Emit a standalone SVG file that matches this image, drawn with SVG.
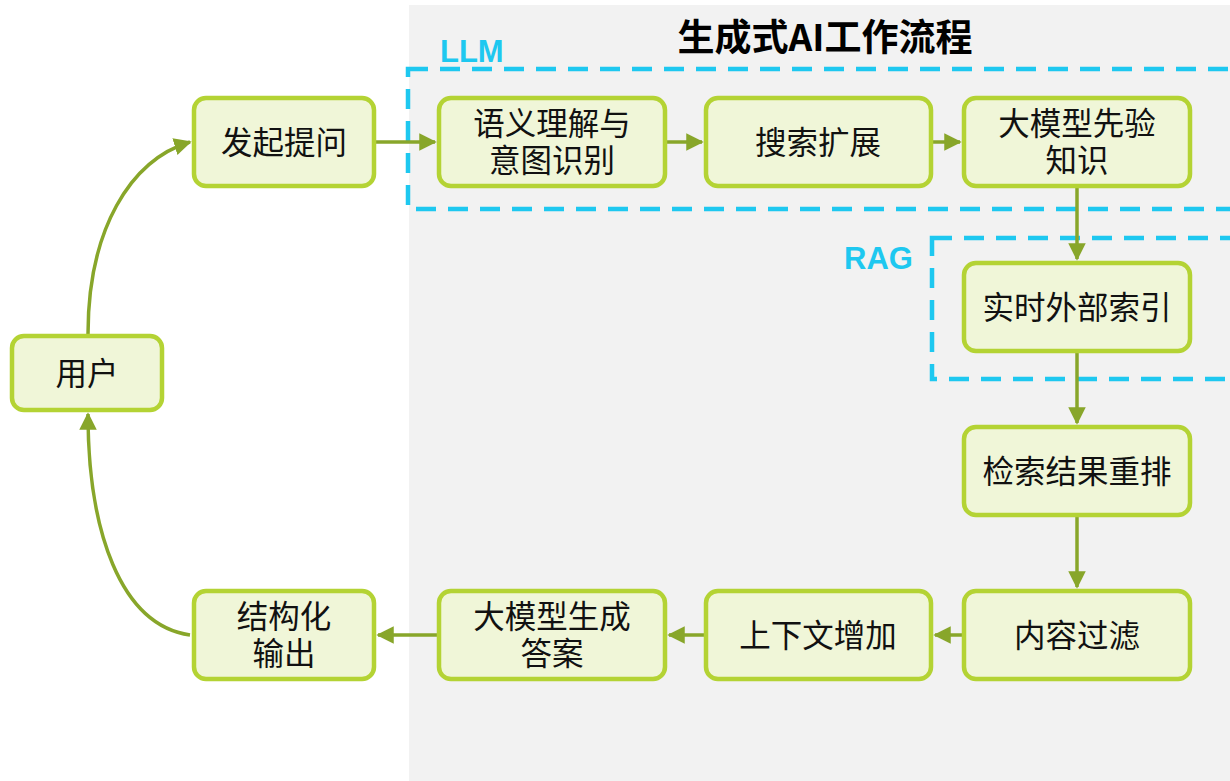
<svg xmlns="http://www.w3.org/2000/svg" width="1230" height="781" viewBox="0 0 1230 781">
<style>
.n rect{fill:#f0f6d8;stroke:#b4d334;stroke-width:4.5}
.n text{font-family:"Noto Sans CJK SC","Liberation Sans",sans-serif;font-size:31.5px;fill:#111;text-anchor:middle}
.c{stroke:#88a62a;stroke-width:3.5;fill:none}
.g{fill:none;stroke:#1ec8f0;stroke-width:4.5;stroke-dasharray:20 12}
.lbl{font-family:"Liberation Sans",sans-serif;font-weight:bold;font-size:31px;fill:#1ec8f0}
</style>
<defs>
<marker id="a" viewBox="0 0 10 10" refX="9" refY="5" markerWidth="5" markerHeight="5" orient="auto" markerUnits="strokeWidth">
<path d="M0,0 L10,5 L0,10 z" fill="#88a62a"/>
</marker>
</defs>
<rect x="409" y="5" width="821" height="776" fill="#f2f2f2"/>
<text x="825" y="51" text-anchor="middle" font-family="Noto Sans CJK SC,Liberation Sans,sans-serif" font-weight="bold" font-size="37" fill="#000">生成式AI工作流程</text>
<g id="group-llm">
<rect class="g" x="408" y="69" width="840" height="140"/>
<text class="lbl" x="440" y="62">LLM</text>
</g>
<g id="group-rag">
<rect class="g" x="932" y="238" width="316" height="141"/>
<text class="lbl" x="844" y="269">RAG</text>
</g>
<g id="connectors">
<line class="c" x1="376" y1="142" x2="435" y2="142" marker-end="url(#a)"/>
<line class="c" x1="667" y1="142" x2="702" y2="142" marker-end="url(#a)"/>
<line class="c" x1="933" y1="142" x2="960" y2="142" marker-end="url(#a)"/>
<line class="c" x1="1077" y1="188" x2="1077" y2="259" marker-end="url(#a)"/>
<line class="c" x1="1077" y1="353" x2="1077" y2="423" marker-end="url(#a)"/>
<line class="c" x1="1077" y1="517" x2="1077" y2="587" marker-end="url(#a)"/>
<line class="c" x1="962" y1="635" x2="935" y2="635" marker-end="url(#a)"/>
<line class="c" x1="704" y1="635" x2="669" y2="635" marker-end="url(#a)"/>
<line class="c" x1="437" y1="635" x2="378" y2="635" marker-end="url(#a)"/>
<path class="c" d="M88,334 C88,230 130,160 190,142" marker-end="url(#a)"/>
<path class="c" d="M190,635 C120,625 88,530 88,414" marker-end="url(#a)"/>
</g>
<g id="n-user" class="n"><rect x="12" y="336" width="150" height="74" rx="12"/><text x="87" y="385">用户</text></g>
<g id="n-ask" class="n"><rect x="194" y="98" width="180" height="88" rx="12"/><text x="284" y="154">发起提问</text></g>
<g id="n-sem" class="n"><rect x="439" y="98" width="226" height="88" rx="12"/><text x="552" y="135">语义理解与</text><text x="552" y="172">意图识别</text></g>
<g id="n-search" class="n"><rect x="706" y="98" width="225" height="88" rx="12"/><text x="818" y="154">搜索扩展</text></g>
<g id="n-prior" class="n"><rect x="964" y="98" width="226" height="88" rx="12"/><text x="1077" y="135">大模型先验</text><text x="1077" y="172">知识</text></g>
<g id="n-index" class="n"><rect x="964" y="263" width="226" height="88" rx="12"/><text x="1077" y="319">实时外部索引</text></g>
<g id="n-rerank" class="n"><rect x="964" y="427" width="226" height="88" rx="12"/><text x="1077" y="483">检索结果重排</text></g>
<g id="n-filter" class="n"><rect x="964" y="591" width="226" height="88" rx="12"/><text x="1077" y="647">内容过滤</text></g>
<g id="n-ctx" class="n"><rect x="706" y="591" width="225" height="88" rx="12"/><text x="818" y="647">上下文增加</text></g>
<g id="n-gen" class="n"><rect x="439" y="591" width="226" height="88" rx="12"/><text x="552" y="628">大模型生成</text><text x="552" y="665">答案</text></g>
<g id="n-out" class="n"><rect x="194" y="591" width="180" height="88" rx="12"/><text x="284" y="628">结构化</text><text x="284" y="665">输出</text></g>
</svg>
